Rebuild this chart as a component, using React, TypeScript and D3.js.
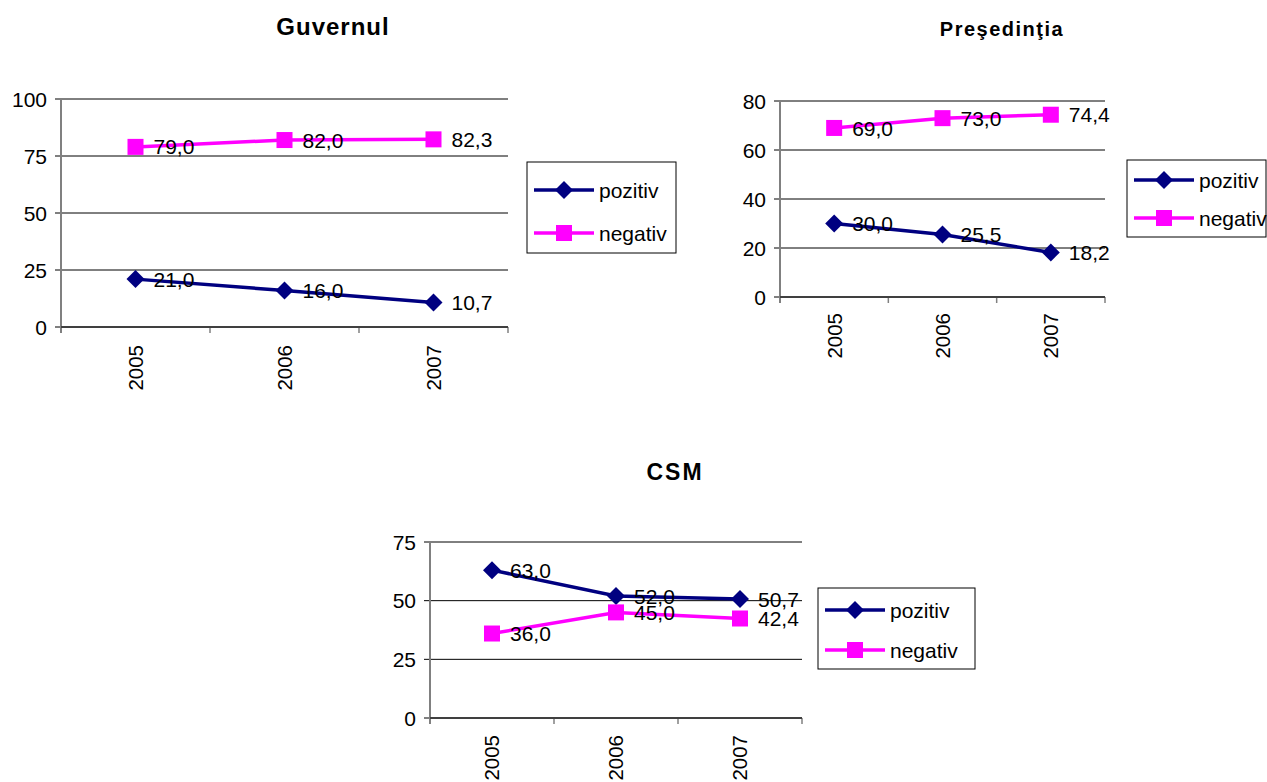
import React from "react";
import * as d3 from "d3";

const years = ["2005", "2006", "2007"];
const seriesNames = ["pozitiv", "negativ"];
const seriesColors = ["#000080", "#FF00FF"];

const guvernulPozitiv = [21.0, 16.0, 10.7];
const guvernulNegativ = [79.0, 82.0, 82.3];
const presedintiaPozitiv = [30.0, 25.5, 18.2];
const presedintiaNegativ = [69.0, 73.0, 74.4];
const csmPozitiv = [63.0, 52.0, 50.7];
const csmNegativ = [36.0, 45.0, 42.4];

const guvernulTicks = [0, 25, 50, 75, 100];
const presedintiaTicks = [0, 20, 40, 60, 80];
const csmTicks = [0, 25, 50, 75];

const FONT = "'Liberation Sans', Arial, sans-serif";

type ChartProps = {
  title: string;
  titleX: number;
  titleY: number;
  titleSize: number;
  titleSpacing: number;
  left: number;
  right: number;
  top: number;
  bottom: number;
  ticks: number[];
  data: number[][];
  yearEnd: number;
  legend: { x: number; y: number; w: number; h: number; row1: number; row2: number };
};

const fmt = (v: number) => v.toFixed(1).replace(".", ",");

function Marker({ kind, x, y, color }: { kind: number; x: number; y: number; color: string }) {
  if (kind === 0) {
    const r = 9;
    return <path d={`M${x},${y - r}L${x + r},${y}L${x},${y + r}L${x - r},${y}Z`} fill={color} />;
  }
  const s = 16;
  return <rect x={x - s / 2} y={y - s / 2} width={s} height={s} fill={color} />;
}

function Chart(p: ChartProps) {
  const yMax = p.ticks[p.ticks.length - 1];
  const y = d3.scaleLinear().domain([0, yMax]).range([p.bottom, p.top]);
  const x = d3.scaleBand().domain(years).range([p.left, p.right]).paddingInner(0).paddingOuter(0);
  const cx = (yr: string) => (x(yr) as number) + x.bandwidth() / 2;
  const line = d3
    .line<number>()
    .x((_, i) => cx(years[i]))
    .y((v) => y(v));
  const boundaries = [p.left, ...years.map((yr) => (x(yr) as number) + x.bandwidth())];
  return (
    <g>
      <text
        x={p.titleX}
        y={p.titleY}
        textAnchor="middle"
        dominantBaseline="middle"
        fontFamily={FONT}
        fontWeight="bold"
        fontSize={p.titleSize}
        letterSpacing={p.titleSpacing}
      >
        {p.title}
      </text>
      {p.ticks.map((t) => (
        <g key={t}>
          <line x1={p.left - 6} x2={p.right} y1={y(t)} y2={y(t)} stroke="#000" strokeWidth={1} />
          <text
            x={p.left - 14}
            y={y(t)}
            dy="0.36em"
            textAnchor="end"
            fontFamily={FONT}
            fontSize={21}
          >
            {t}
          </text>
        </g>
      ))}
      <line x1={p.left} x2={p.left} y1={p.top} y2={p.bottom + 6} stroke="#808080" strokeWidth={2} />
      {boundaries.slice(1).map((b, i) => (
        <line key={i} x1={b} x2={b} y1={p.bottom} y2={p.bottom + 6} stroke="#808080" strokeWidth={1.5} />
      ))}
      <line x1={p.left} x2={p.right} y1={p.bottom} y2={p.bottom} stroke="#000" strokeWidth={1} />
      {years.map((yr) => (
        <text
          key={yr}
          transform={`translate(${cx(yr)},${p.yearEnd}) rotate(-90)`}
          textAnchor="end"
          dy="0.36em"
          fontFamily={FONT}
          fontSize={20.5}
        >
          {yr}
        </text>
      ))}
      {p.data.map((vals, si) => (
        <g key={si}>
          <path d={line(vals) as string} fill="none" stroke={seriesColors[si]} strokeWidth={3.5} />
          {vals.map((v, i) => (
            <Marker key={i} kind={si} x={cx(years[i])} y={y(v)} color={seriesColors[si]} />
          ))}
        </g>
      ))}
      {p.data.map((vals, si) =>
        vals.map((v, i) => (
          <text
            key={`${si}-${i}`}
            x={cx(years[i]) + 18}
            y={y(v)}
            dy="0.36em"
            fontFamily={FONT}
            fontSize={21}
          >
            {fmt(v)}
          </text>
        ))
      )}
      <rect x={p.legend.x} y={p.legend.y} width={p.legend.w} height={p.legend.h} fill="#fff" stroke="#000" strokeWidth={1} />
      {seriesNames.map((name, si) => {
        const ly = si === 0 ? p.legend.row1 : p.legend.row2;
        const lx = p.legend.x + 7;
        return (
          <g key={name}>
            <line x1={lx} x2={lx + 60} y1={ly} y2={ly} stroke={seriesColors[si]} strokeWidth={3.5} />
            <Marker kind={si} x={lx + 30} y={ly} color={seriesColors[si]} />
            <text x={lx + 65} y={ly} dy="0.36em" fontFamily={FONT} fontSize={21}>
              {name}
            </text>
          </g>
        );
      })}
    </g>
  );
}

export default function App() {
  return (
    <div style={{ position: "absolute", left: 0, top: 0 }}>
      <svg width={1267} height={782} style={{ display: "block", background: "#fff" }}>
        <Chart
          title="Guvernul"
          titleX={333}
          titleY={29}
          titleSize={24}
          titleSpacing={1}
          left={61}
          right={508}
          top={99}
          bottom={327}
          ticks={guvernulTicks}
          data={[guvernulPozitiv, guvernulNegativ]}
          yearEnd={345}
          legend={{ x: 527, y: 162, w: 149, h: 91, row1: 190, row2: 233 }}
        />
        <Chart
          title="Preşedinţia"
          titleX={1002}
          titleY={31}
          titleSize={20}
          titleSpacing={1.5}
          left={780}
          right={1105}
          top={101}
          bottom={297}
          ticks={presedintiaTicks}
          data={[presedintiaPozitiv, presedintiaNegativ]}
          yearEnd={313}
          legend={{ x: 1127, y: 160, w: 139, h: 77, row1: 180, row2: 218 }}
        />
        <Chart
          title="CSM"
          titleX={675}
          titleY={474}
          titleSize={23}
          titleSpacing={2}
          left={430}
          right={802}
          top={542}
          bottom={718}
          ticks={csmTicks}
          data={[csmPozitiv, csmNegativ]}
          yearEnd={735}
          legend={{ x: 818, y: 588, w: 157, h: 81, row1: 610, row2: 650 }}
        />
      </svg>
    </div>
  );
}
